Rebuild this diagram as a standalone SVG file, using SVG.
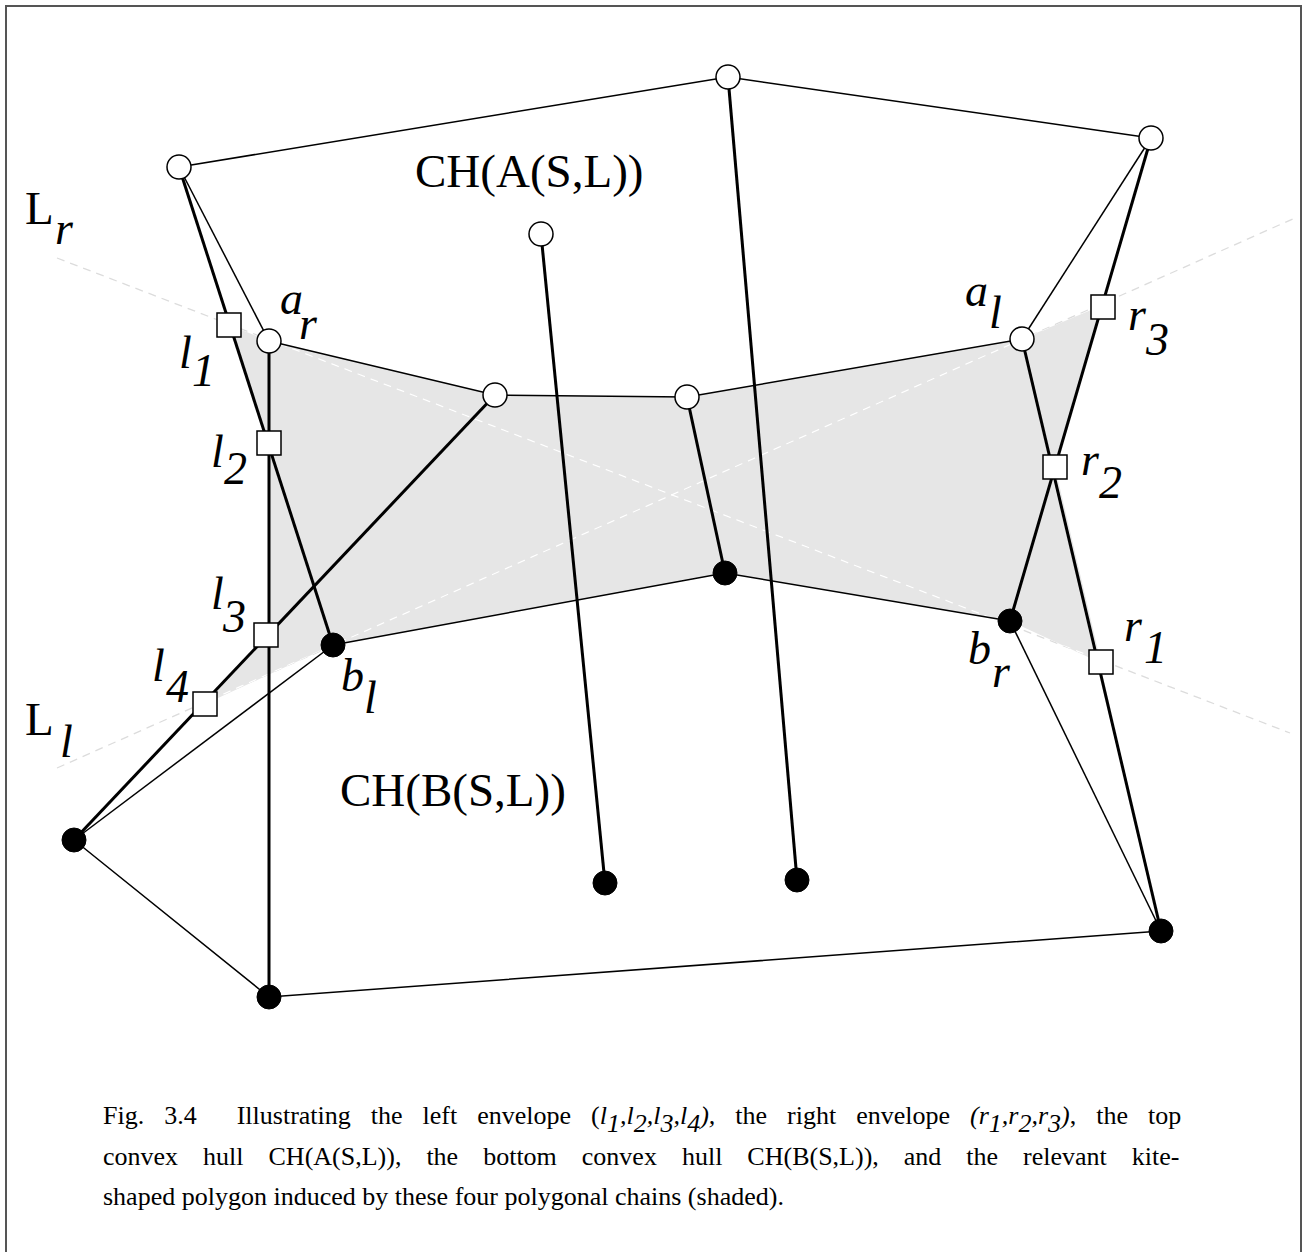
<svg xmlns="http://www.w3.org/2000/svg" width="1305" height="1252" viewBox="0 0 1305 1252">
<defs>
<style>
.thin{stroke:#000;stroke-width:1.5;fill:none}
.thick{stroke:#000;stroke-width:3;fill:none}
.dash{stroke:#dcdcdc;stroke-width:1.3;stroke-dasharray:8 6;fill:none}
.dashw{stroke:#fff;stroke-width:1.3;stroke-dasharray:8 6;fill:none}
.open{fill:#fff;stroke:#000;stroke-width:1.5}
.full{fill:#000;stroke:#000;stroke-width:1}
.sq{fill:#fff;stroke:#000;stroke-width:1.5}
.lab{font-family:"Liberation Serif",serif;font-size:46px;font-style:italic;fill:#000}
.up{font-family:"Liberation Serif",serif;font-size:47px;fill:#000}
.cap{font-family:"Liberation Serif",serif;font-size:26px;fill:#000}
.it{font-style:italic}
</style>
<clipPath id="kclip"><polygon points="269,341 495,395 687,397 1022,339 1103,305 1055,467 1101,663 1010,621 725,573 333,645 205,704 268,633 269,443 229,325"/></clipPath>
</defs>
<rect x="6" y="6" width="1295" height="1270" fill="#fff" stroke="#555" stroke-width="2"/>
<g id="kite">
<polygon points="269,341 495,395 687,397 1022,339 1103,305 1055,467 1101,663 1010,621 725,573 333,645 205,704 268,633 269,443 229,325" fill="#e6e6e6"/>
</g>
<g id="support-lines">
<line class="dash" x1="57" y1="258" x2="1290" y2="733"/>
<line class="dash" x1="57" y1="768" x2="1295" y2="218"/>
<g clip-path="url(#kclip)">
<line class="dashw" x1="57" y1="258" x2="1290" y2="733"/>
<line class="dashw" x1="57" y1="768" x2="1295" y2="218"/>
</g>
</g>
<g id="connectors">
<polyline class="thin" points="179,167 728,77 1151,138"/>
<line class="thin" x1="179" y1="167" x2="269" y2="341"/>
<line class="thin" x1="1151" y1="138" x2="1022" y2="339"/>
<polyline class="thin" points="269,341 495,395 687,397 1022,339"/>
<polyline class="thin" points="333,645 725,573 1010,621"/>
<line class="thin" x1="74" y1="840" x2="333" y2="645"/>
<line class="thin" x1="1010" y1="621" x2="1161" y2="931"/>
<polyline class="thin" points="74,840 269,997 1161,931"/>
<line class="thick" x1="179" y1="167" x2="333" y2="645"/>
<line class="thick" x1="269" y1="341" x2="269" y2="997"/>
<line class="thick" x1="495" y1="395" x2="74" y2="840"/>
<line class="thick" x1="687" y1="397" x2="725" y2="573"/>
<line class="thick" x1="541" y1="234" x2="605" y2="883"/>
<line class="thick" x1="728" y1="77" x2="797" y2="880"/>
<line class="thick" x1="1022" y1="339" x2="1161" y2="931"/>
<line class="thick" x1="1151" y1="138" x2="1010" y2="621"/>
</g>
<g id="l1"><rect class="sq" x="217" y="313" width="24" height="24"/></g>
<g id="l2"><rect class="sq" x="257" y="431" width="24" height="24"/></g>
<g id="l3"><rect class="sq" x="254" y="623" width="24" height="24"/></g>
<g id="l4"><rect class="sq" x="193" y="692" width="24" height="24"/></g>
<g id="r3"><rect class="sq" x="1091" y="295" width="24" height="24"/></g>
<g id="r2"><rect class="sq" x="1043" y="455" width="24" height="24"/></g>
<g id="r1"><rect class="sq" x="1089" y="650" width="24" height="24"/></g>
<g id="a-top-left"><circle class="open" cx="179" cy="167" r="12"/></g>
<g id="a-top"><circle class="open" cx="728" cy="77" r="12"/></g>
<g id="a-top-right"><circle class="open" cx="1151" cy="138" r="12"/></g>
<g id="a-inner"><circle class="open" cx="541" cy="234" r="12"/></g>
<g id="a_r"><circle class="open" cx="269" cy="341" r="12"/></g>
<g id="a-mid1"><circle class="open" cx="495" cy="395" r="12"/></g>
<g id="a-mid2"><circle class="open" cx="687" cy="397" r="12"/></g>
<g id="a_l"><circle class="open" cx="1022" cy="339" r="12"/></g>
<g id="b-mid"><circle class="full" cx="725" cy="573" r="12"/></g>
<g id="b_r"><circle class="full" cx="1010" cy="621" r="12"/></g>
<g id="b_l"><circle class="full" cx="333" cy="645" r="12"/></g>
<g id="b-left"><circle class="full" cx="74" cy="840" r="12"/></g>
<g id="b-bottom-left"><circle class="full" cx="269" cy="997" r="12"/></g>
<g id="b-inner1"><circle class="full" cx="605" cy="883" r="12"/></g>
<g id="b-inner2"><circle class="full" cx="797" cy="880" r="12"/></g>
<g id="b-bottom-right"><circle class="full" cx="1161" cy="931" r="12"/></g>
<g id="labels">
<text class="up" x="25" y="224">L</text><text class="lab" x="55" y="244">r</text>
<text class="up" x="25" y="735">L</text><text class="lab" x="60" y="757">l</text>
<text class="lab" x="280" y="314">a</text><text class="lab" x="299" y="339">r</text>
<text class="lab" x="179" y="368">l</text><text class="lab" x="192" y="386">1</text>
<text class="lab" x="211" y="467">l</text><text class="lab" x="224" y="484">2</text>
<text class="lab" x="211" y="609">l</text><text class="lab" x="223" y="632">3</text>
<text class="lab" x="152" y="681">l</text><text class="lab" x="166" y="702">4</text>
<text class="lab" x="341" y="691">b</text><text class="lab" x="364" y="713">l</text>
<text class="lab" x="965" y="306">a</text><text class="lab" x="989" y="328">l</text>
<text class="lab" x="1128" y="330">r</text><text class="lab" x="1146" y="355">3</text>
<text class="lab" x="1081" y="475">r</text><text class="lab" x="1099" y="498">2</text>
<text class="lab" x="1124" y="641">r</text><text class="lab" x="1144" y="663">1</text>
<text class="lab" x="968" y="664">b</text><text class="lab" x="992" y="687">r</text>
<text class="up" x="415" y="187">CH(A(S,L))</text>
<text class="up" x="340" y="806">CH(B(S,L))</text>
</g>
<g id="caption">
<text class="cap" x="103" y="1124" word-spacing="13.5" xml:space="preserve">Fig. 3.4  Illustrating the left envelope (<tspan class="it">l<tspan dy="8">1</tspan><tspan dy="-8">,l</tspan><tspan dy="8">2</tspan><tspan dy="-8">,l</tspan><tspan dy="8">3</tspan><tspan dy="-8">,l</tspan><tspan dy="8">4</tspan><tspan dy="-8">),</tspan></tspan> the right envelope <tspan class="it">(r<tspan dy="8">1</tspan><tspan dy="-8">,r</tspan><tspan dy="8">2</tspan><tspan dy="-8">,r</tspan><tspan dy="8">3</tspan><tspan dy="-8">)</tspan></tspan>, the top</text>
<text class="cap" x="103" y="1165" word-spacing="18.5">convex hull CH(A(S,L)), the bottom convex hull CH(B(S,L)), and the relevant kite-</text>
<text class="cap" x="103" y="1205">shaped polygon induced by these four polygonal chains (shaded).</text>
</g>
</svg>
